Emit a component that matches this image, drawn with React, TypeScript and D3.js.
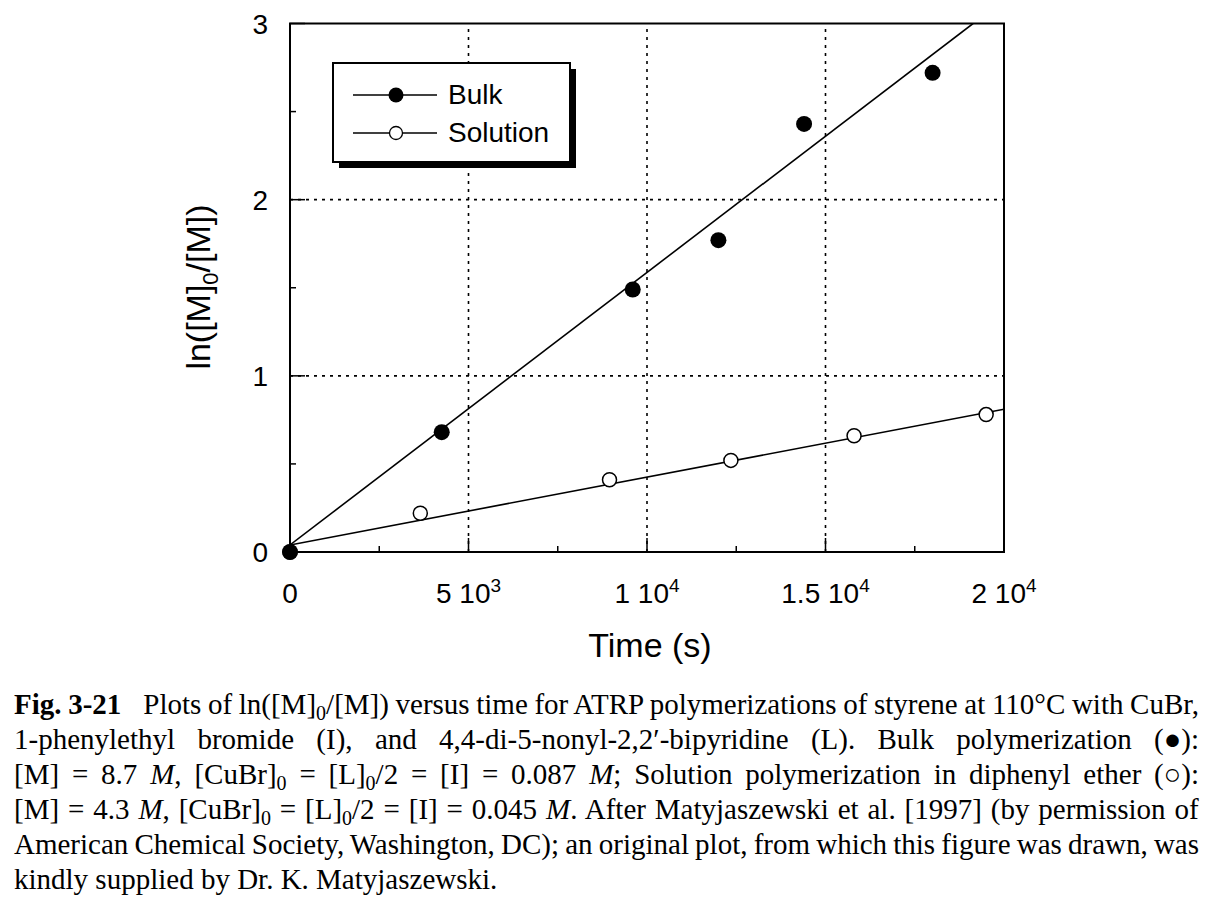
import React, { useEffect, useRef } from "react";
import * as d3 from "d3";

// ---- data ----
const bulkTime = [0, 4250, 9600, 12000, 14400, 18000];
const bulkLn = [0, 0.68, 1.49, 1.77, 2.43, 2.72];
const solTime = [0, 3650, 8950, 12350, 15800, 19500];
const solLn = [0, 0.22, 0.41, 0.52, 0.66, 0.78];
// fitted straight lines drawn in the figure
const bulkFit = [0.04, 1.547e-4]; // intercept, slope
const solFit = [0.04, 3.85e-5];

const xTickValues = [0, 5000, 10000, 15000, 20000];
const xTickMantissa = ["0", "5", "1", "1.5", "2"];
const xTickExp = ["", "3", "4", "4", "4"];
const xMinorTicks = [2500, 7500, 12500, 17500];
const yTickValues = [0, 1, 2, 3];
const yMinorTicks = [0.5, 1.5, 2.5];
const legendLabels = ["Bulk", "Solution"];

type Seg = { t: string; b?: boolean; i?: boolean; sub?: boolean; dx?: number };
const captionLines: Seg[][] = [
  [
    { t: "Fig. 3-21", b: true },
    { t: "Plots of ln([M]", dx: 22 },
    { t: "0", sub: true },
    { t: "/[M]) versus time for ATRP polymerizations of styrene at 110°C with CuBr," },
  ],
  [{ t: "1-phenylethyl bromide (I), and 4,4-di-5-nonyl-2,2′-bipyridine (L). Bulk polymerization (●):" }],
  [
    { t: "[M] = 8.7 " },
    { t: "M", i: true },
    { t: ", [CuBr]" },
    { t: "0", sub: true },
    { t: " = [L]" },
    { t: "0", sub: true },
    { t: "/2 = [I] = 0.087 " },
    { t: "M", i: true },
    { t: "; Solution polymerization in diphenyl ether (○):" },
  ],
  [
    { t: "[M] = 4.3 " },
    { t: "M", i: true },
    { t: ", [CuBr]" },
    { t: "0", sub: true },
    { t: " = [L]" },
    { t: "0", sub: true },
    { t: "/2 = [I] = 0.045 " },
    { t: "M", i: true },
    { t: ". After Matyjaszewski et al. [1997] (by permission of" },
  ],
  [{ t: "American Chemical Society, Washington, DC); an original plot, from which this figure was drawn, was" }],
  [{ t: "kindly supplied by Dr. K. Matyjaszewski." }],
];

const W = 1226;
const H = 914;
const L = 290, R = 1004, T = 23.5, B = 552;
const sans = "'Liberation Sans', Arial, Helvetica, sans-serif";
const serif = "'Liberation Serif', 'Times New Roman', serif";

export default function App() {
  const capRefs = useRef<(SVGTextElement | null)[]>([]);
  const x = d3.scaleLinear().domain([0, 20000]).range([L, R]);
  const y = d3.scaleLinear().domain([0, 3]).range([B, T]);

  const capLeft = 14;
  const capRight = 1199;
  const capY0 = 714;
  const capDy = 35;

  useEffect(() => {
    capRefs.current.forEach((el, i) => {
      if (!el || i === captionLines.length - 1) return;
      el.setAttribute("word-spacing", "0");
      const w = el.getBBox().width;
      const n = (el.textContent || "").split(" ").length - 1;
      if (n > 0) {
        const ws = (capRight - capLeft - w) / n;
        el.setAttribute("word-spacing", String(ws));
      }
    });
  }, []);

  const bulkLine = d3.line<number>()
    .x((t) => x(t))
    .y((t) => y(bulkFit[0] + bulkFit[1] * t));
  const solLine = d3.line<number>()
    .x((t) => x(t))
    .y((t) => y(solFit[0] + solFit[1] * t));
  const bulkEnd = (3 - bulkFit[0]) / bulkFit[1];

  const lx = 333, ly = 63, lw = 237, lh = 99;

  return (
    <svg width={W} height={H} style={{ position: "absolute", left: 0, top: 0, background: "#fff" }}>
      <defs>
        <clipPath id="plotClip">
          <rect x={L} y={T} width={R - L} height={B - T} />
        </clipPath>
      </defs>
      <rect x={0} y={0} width={W} height={H} fill="#fff" />
      {/* grid */}
      <g stroke="#000" strokeWidth={1.6} strokeDasharray="3,5">
        {xTickValues.slice(1, -1).map((v) => (
          <line key={"gx" + v} x1={x(v)} x2={x(v)} y1={B} y2={T} />
        ))}
        {yTickValues.slice(1, -1).map((v) => (
          <line key={"gy" + v} x1={L} x2={R} y1={y(v)} y2={y(v)} />
        ))}
      </g>
      {/* ticks */}
      <g stroke="#000" strokeWidth={1.5}>
        {xTickValues.map((v) => (
          <line key={"tx" + v} x1={x(v)} x2={x(v)} y1={B} y2={B - 14} />
        ))}
        {xMinorTicks.map((v) => (
          <line key={"mx" + v} x1={x(v)} x2={x(v)} y1={B} y2={B - 6} />
        ))}
        {yTickValues.map((v) => (
          <line key={"ty" + v} x1={L} x2={L + 15} y1={y(v)} y2={y(v)} />
        ))}
        {yMinorTicks.map((v) => (
          <line key={"my" + v} x1={L} x2={L + 6} y1={y(v)} y2={y(v)} />
        ))}
      </g>
      {/* frame */}
      <rect x={L} y={T} width={R - L} height={B - T} fill="none" stroke="#000" strokeWidth={2} />
      {/* fit lines */}
      <g clipPath="url(#plotClip)" fill="none" stroke="#000" strokeWidth={1.6}>
        <path d={bulkLine([0, bulkEnd]) || ""} />
        <path d={solLine([0, 20000]) || ""} />
      </g>
      {/* points */}
      <g>
        {solTime.map((t, i) => (
          <circle key={"s" + i} cx={x(t)} cy={y(solLn[i])} r={7} fill="#fff" stroke="#000" strokeWidth={1.5} />
        ))}
        {bulkTime.map((t, i) => (
          <circle key={"b" + i} cx={x(t)} cy={y(bulkLn[i])} r={8} fill="#000" />
        ))}
      </g>
      {/* tick labels */}
      <g fontFamily={sans} fontSize={28} fill="#000">
        {xTickValues.map((v, i) => (
          <text key={"lx" + v} x={x(v)} y={603} textAnchor="middle">
            {xTickMantissa[i] + (xTickExp[i] ? " 10" : "")}
            {xTickExp[i] ? (
              <tspan dy={-11} fontSize={19}>{xTickExp[i]}</tspan>
            ) : null}
          </text>
        ))}
        {yTickValues.map((v) => (
          <text key={"ly" + v} x={268} y={y(v) + 10} textAnchor="end">
            {String(v)}
          </text>
        ))}
      </g>
      {/* axis titles */}
      <text x={(L + R) / 2 + 3} y={657} textAnchor="middle" fontFamily={sans} fontSize={34}>
        Time (s)
      </text>
      <text
        transform={`translate(210, 287) rotate(-90)`}
        textAnchor="middle"
        fontFamily={sans}
        fontSize={34}
      >
        ln([M]<tspan dy={8} fontSize={22}>0</tspan><tspan dy={-8}>/[M])</tspan>
      </text>
      {/* legend */}
      <rect x={lx + 6} y={ly + 6} width={lw} height={lh} fill="#000" />
      <rect x={lx} y={ly} width={lw} height={lh} fill="#fff" stroke="#000" strokeWidth={2} />
      {legendLabels.map((lab, i) => {
        const yy = ly + 32 + i * 38;
        return (
          <g key={lab}>
            <line x1={353} x2={437} y1={yy} y2={yy} stroke="#000" strokeWidth={1.3} />
            {i === 0 ? (
              <circle cx={396} cy={yy} r={7.5} fill="#000" />
            ) : (
              <circle cx={396} cy={yy} r={6.5} fill="#fff" stroke="#000" strokeWidth={1.3} />
            )}
            <text x={448} y={yy + 9} fontFamily={sans} fontSize={28}>
              {lab}
            </text>
          </g>
        );
      })}
      {/* caption */}
      <g fontFamily={serif} fontSize={29} fill="#000">
        {captionLines.map((segs, li) => {
          let shifted = 0;
          return (
            <text
              key={"c" + li}
              ref={(el) => { capRefs.current[li] = el; }}
              x={capLeft}
              y={capY0 + li * capDy}
              style={{ whiteSpace: "pre" }}
            >
              {segs.map((s, si) => {
                let dy = 0;
                if (s.sub && shifted === 0) { dy = 6; shifted = 6; }
                else if (!s.sub && shifted !== 0) { dy = -shifted; shifted = 0; }
                return (
                  <tspan
                    key={si}
                    dy={dy || undefined}
                    dx={s.dx}
                    fontWeight={s.b ? "bold" : undefined}
                    fontStyle={s.i ? "italic" : undefined}
                    fontSize={s.sub ? 20 : undefined}
                  >
                    {s.t}
                  </tspan>
                );
              })}
            </text>
          );
        })}
      </g>
    </svg>
  );
}
